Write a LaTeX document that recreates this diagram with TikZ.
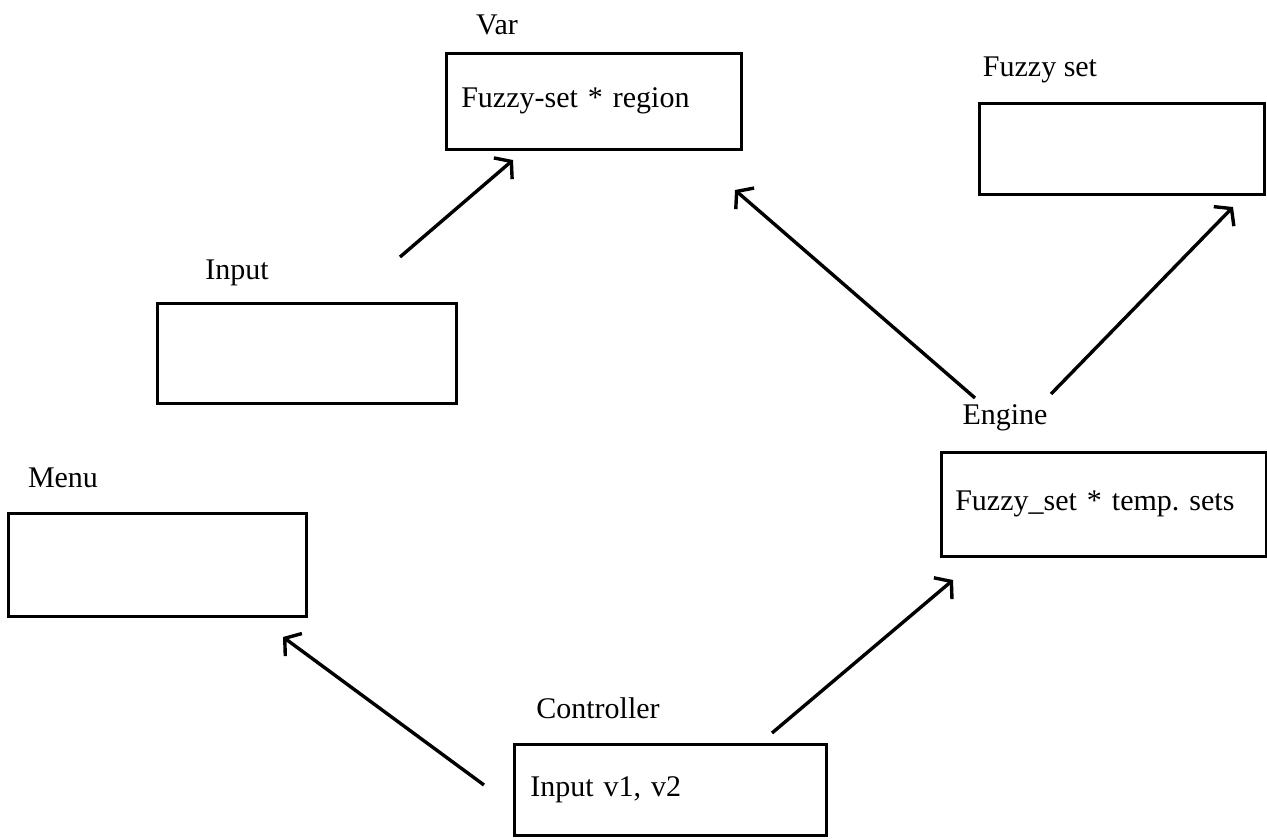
\documentclass[tikz,border=0pt]{standalone}
\usepackage{fontspec}
\setmainfont{Liberation Serif}
\usetikzlibrary{arrows.meta}
\frenchspacing
\tikzset{
  box/.style={draw, line width=2.6pt, anchor=north west, inner ysep=0pt, align=left,
              font=\fontsize{30}{34}\selectfont},
  lbl/.style={font=\fontsize{30}{34}\selectfont, inner sep=0pt},
  conn/.style={line width=3.4pt, -{Straight Barb[length=11pt,width=28pt]}}
}
\begin{document}
\begin{tikzpicture}[x=1pt,y=-1pt]
\useasboundingbox[fill=white] (0,0) rectangle (1267,840);
% boxes
\node[box, minimum width=295pt, minimum height=96pt, text width=265pt, inner xsep=15pt] (var) at (445,52) {Fuzzy-set * region};
\node[box, minimum width=285pt, minimum height=91pt] (fset) at (978,102) {};
\node[box, minimum width=299pt, minimum height=100pt] (input) at (156,302) {};
\node[box, minimum width=298pt, minimum height=103pt] (menu) at (7,512) {};
\node[box, minimum width=325pt, minimum height=104pt, text width=297pt, inner xsep=14pt] (engine) at (940,451) {Fuzzy\_set * temp. sets};
\node[box, minimum width=312pt, minimum height=91pt, text width=280pt, inner xsep=16pt] (ctrl) at (513,743) {Input v1, v2};
% labels
\node[lbl] (varl) at (497,25) {Var};
\node[lbl] (fsetl) at (1040,70) {Fuzzy set};
\node[lbl] (inputl) at (237,273) {Input};
\node[lbl] (menul) at (63,478) {Menu};
\node[lbl] (enginel) at (1005,418) {Engine};
\node[lbl] (ctrll) at (598,708) {Controller};
% connector ends
\coordinate (a1) at (400,257); \coordinate (a2) at (513,160);
\coordinate (b1) at (975,398); \coordinate (b2) at (735,190);
\coordinate (c1) at (1051,394); \coordinate (c2) at (1233,207);
\coordinate (d1) at (484,785); \coordinate (d2) at (283,637);
\coordinate (e1) at (772,733); \coordinate (e2) at (953,580);
\draw[conn] (a1) -- (a2);
\draw[conn] (b1) -- (b2);
\draw[conn] (c1) -- (c2);
\draw[conn] (d1) -- (d2);
\draw[conn] (e1) -- (e2);
\end{tikzpicture}
\end{document}
